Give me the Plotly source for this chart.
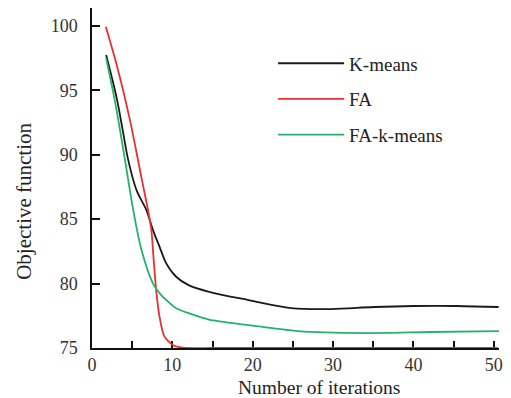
import plotly.graph_objects as go

# ---- data ----
kmeans_x = [1.76, 3.08, 3.82, 4.51, 5.54, 6.77, 7.59, 8.41, 9.24, 10.47, 12.02, 14.57, 19.49, 24.8, 29.7, 35.13, 40.05, 45.35, 50.6]
kmeans_y = [97.73, 94.37, 91.9, 89.58, 87.25, 85.7, 84.15, 82.85, 81.57, 80.53, 79.88, 79.36, 78.72, 78.10, 78.02, 78.18, 78.26, 78.26, 78.18]

fa_x = [1.72, 3.08, 4.72, 6.16, 6.97, 7.39, 7.71, 8.0, 8.38, 9.0, 10.05, 11.28, 15.0, 20.0, 30.0, 40.0, 50.5]
fa_y = [99.92, 96.95, 92.7, 88.2, 85.7, 84.15, 81.57, 79.4, 77.5, 75.9, 75.23, 75.02, 75.0, 75.0, 75.0, 75.0, 75.0]

fakm_x = [1.76, 2.87, 3.49, 4.31, 5.13, 6.16, 7.59, 8.62, 9.64, 10.47, 12.02, 14.57, 19.49, 25.65, 33.9, 42.03, 50.65]
fakm_y = [97.47, 94.1, 91.9, 88.8, 85.7, 82.6, 80.0, 79.1, 78.5, 78.08, 77.7, 77.2, 76.78, 76.31, 76.16, 76.24, 76.31]

series_names = ["K-means", "FA", "FA-k-means"]
series_colors = ["#1a1a1a", "#e8302f", "#25b36c"]
series_smoothing = [1.0, 0.7, 0.8]

x_tickvals = [0, 10, 20, 30, 40, 50]
y_tickvals = [75, 80, 85, 90, 95, 100]

FONT = "Liberation Serif"

fig = go.Figure()
for name, xs, ys, col, sm in zip(series_names,
                                 [kmeans_x, fa_x, fakm_x],
                                 [kmeans_y, fa_y, fakm_y],
                                 series_colors, series_smoothing):
    fig.add_trace(go.Scatter(
        x=xs, y=ys, mode="lines", name=name, legendgroup=name,
        line=dict(color=col, width=1.8, shape="spline", smoothing=sm),
        cliponaxis=False,
    ))

fig.update_layout(
    width=511, height=398,
    margin=dict(l=92, r=8, t=8, b=50),
    paper_bgcolor="white", plot_bgcolor="white",
    font=dict(family=FONT, color="#222222", size=18),
    showlegend=True,
    legend=dict(
        x=0.445, y=0.893, xanchor="left", yanchor="top",
        bgcolor="rgba(0,0,0,0)", font=dict(family=FONT, size=19, color="#222222"),
        tracegroupgap=8, itemwidth=66,
    ),
    xaxis=dict(
        range=[0, 50.65], tickvals=x_tickvals, showgrid=False, zeroline=False,
        showline=True, linecolor="#111111", linewidth=1.5,
        ticks="inside", ticklen=7, tickwidth=1.5, tickcolor="#111111",
        minor=dict(dtick=5, tick0=0, ticks="inside", ticklen=7, tickwidth=1.5, tickcolor="#111111"),
        tickfont=dict(family=FONT, size=18, color="#333333"),
        ticklabelstandoff=0, layer="below traces",
    ),
    yaxis=dict(
        range=[75, 101.38], tickvals=y_tickvals, showgrid=False, zeroline=False,
        showline=True, linecolor="#111111", linewidth=1.5,
        ticks="inside", ticklen=8, tickwidth=1.5, tickcolor="#111111",
        tickfont=dict(family=FONT, size=18, color="#333333"),
        ticklabelstandoff=9, layer="below traces",
    ),
    annotations=[
        dict(text="Number of iterations", xref="paper", yref="paper",
             x=0.558, y=-0.1176, xanchor="center", yanchor="middle", showarrow=False,
             font=dict(family=FONT, size=19.5, color="#222222")),
        dict(text="Objective function", xref="paper", yref="paper",
             x=-0.167, y=0.43, xanchor="center", yanchor="middle", showarrow=False,
             textangle=-90, font=dict(family=FONT, size=21, color="#222222")),
    ],
)

fig.write_html("out.html")
